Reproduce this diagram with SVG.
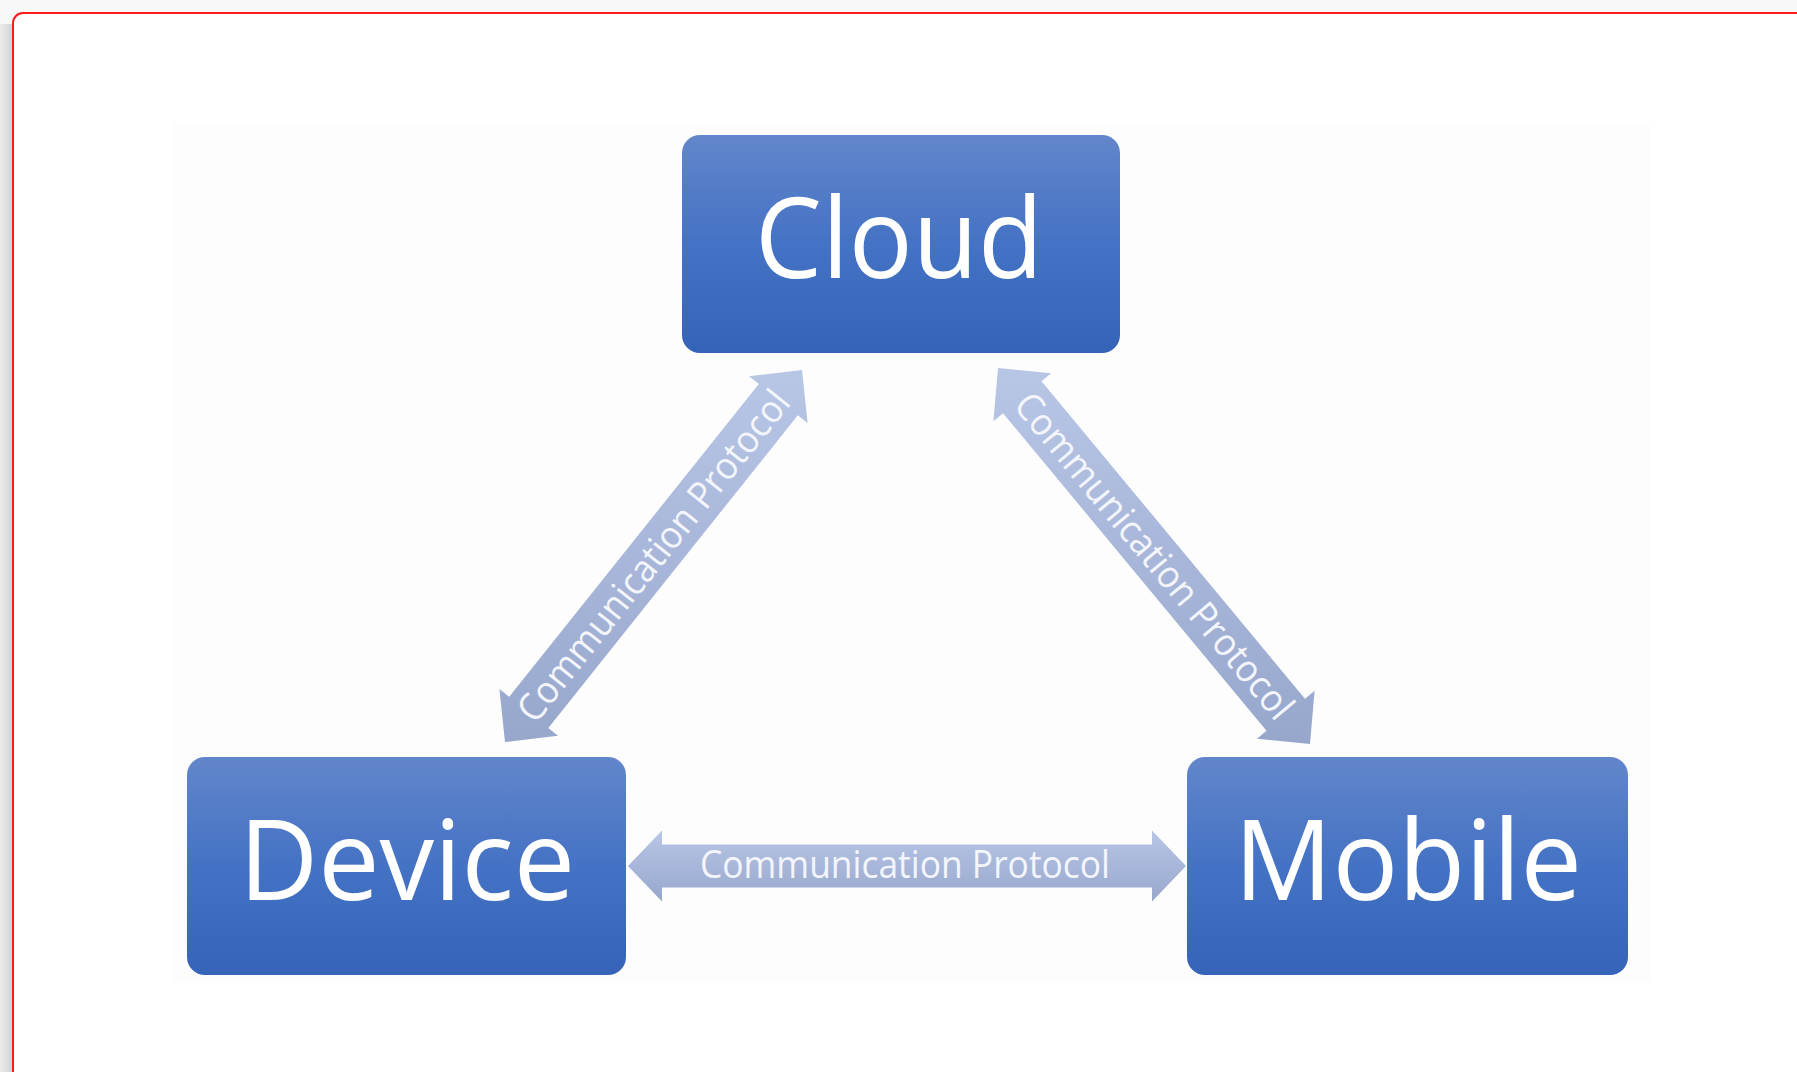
<svg xmlns="http://www.w3.org/2000/svg" width="1797" height="1072" viewBox="0 0 1797 1072">
  <defs>
    <linearGradient id="boxFill" x1="0" y1="0" x2="0" y2="1">
      <stop offset="0" stop-color="#6286cb"/>
      <stop offset="0.5" stop-color="#4472c4"/>
      <stop offset="1" stop-color="#3563b8"/>
    </linearGradient>
    <linearGradient id="arrowFill" x1="0" y1="0" x2="0" y2="1">
      <stop offset="0" stop-color="#b8c6e6"/>
      <stop offset="1" stop-color="#97a7cc"/>
    </linearGradient>
    <linearGradient id="edgeShadow" x1="0" y1="0" x2="1" y2="0">
      <stop offset="0" stop-color="#ececec"/>
      <stop offset="1" stop-color="#cfcfcf"/>
    </linearGradient>
    <style>
      .box { fill: url(#boxFill); }
      .nodeLabel { font-family: "Open Sans", "Noto Sans", sans-serif; font-size: 112px; fill: #ffffff; text-anchor: middle; }
      .link { fill: url(#arrowFill); }
      .linkLabel { font-family: "Open Sans", "Noto Sans", sans-serif; font-size: 38px; fill: #f3f5fb; text-anchor: middle; }
    </style>
  </defs>

  <!-- window chrome: page backdrop, left shadow, framed panel -->
  <rect x="0" y="0" width="1797" height="1072" fill="#f8f8f8"/>
  <rect x="0" y="24" width="14" height="1048" fill="url(#edgeShadow)"/>
  <rect x="13" y="13" width="1820" height="1100" rx="10" fill="#ffffff" stroke="#ff1a1a" stroke-width="2"/>
  <rect x="172" y="124" width="1478" height="858" fill="#fdfdfd"/>

  <!-- connectors -->
  <g id="connectors">
    <g id="link-device-cloud">
      <polygon class="link" points="505,742 558,735.7 548.3,727.9 797.8,415.3 807.6,423.1 802,370 749,376.3 758.8,384.1 509.2,696.7 499.4,688.9"/>
      <text class="linkLabel" transform="translate(653.5,556) rotate(-51.4)" y="13" textLength="412" lengthAdjust="spacingAndGlyphs">Communication Protocol</text>
    </g>
    <g id="link-cloud-mobile">
      <polygon class="link" points="998,368 993.4,421.2 1003,413.2 1266.5,730.7 1256.9,738.7 1310,744 1314.6,690.8 1305,698.8 1041.5,381.3 1051.1,373.3"/>
      <text class="linkLabel" transform="translate(1154,556) rotate(50.2)" y="13" textLength="412" lengthAdjust="spacingAndGlyphs">Communication Protocol</text>
    </g>
    <g id="link-device-mobile">
      <polygon class="link" points="628,866 662,901.5 662,887.5 1152,887.5 1152,901.5 1186,866 1152,830.5 1152,844.5 662,844.5 662,830.5"/>
      <text class="linkLabel" x="905" y="878" textLength="410" lengthAdjust="spacingAndGlyphs">Communication Protocol</text>
    </g>
  </g>

  <!-- nodes -->
  <g id="node-cloud">
    <rect class="box" x="682" y="135" width="438" height="218" rx="18"/>
    <text class="nodeLabel" x="899" y="278" textLength="288" lengthAdjust="spacingAndGlyphs">Cloud</text>
  </g>
  <g id="node-device">
    <rect class="box" x="187" y="757" width="439" height="218" rx="18"/>
    <text class="nodeLabel" x="407" y="900" textLength="336" lengthAdjust="spacingAndGlyphs">Device</text>
  </g>
  <g id="node-mobile">
    <rect class="box" x="1187" y="757" width="441" height="218" rx="18"/>
    <text class="nodeLabel" x="1408" y="900" textLength="348" lengthAdjust="spacingAndGlyphs">Mobile</text>
  </g>
</svg>
